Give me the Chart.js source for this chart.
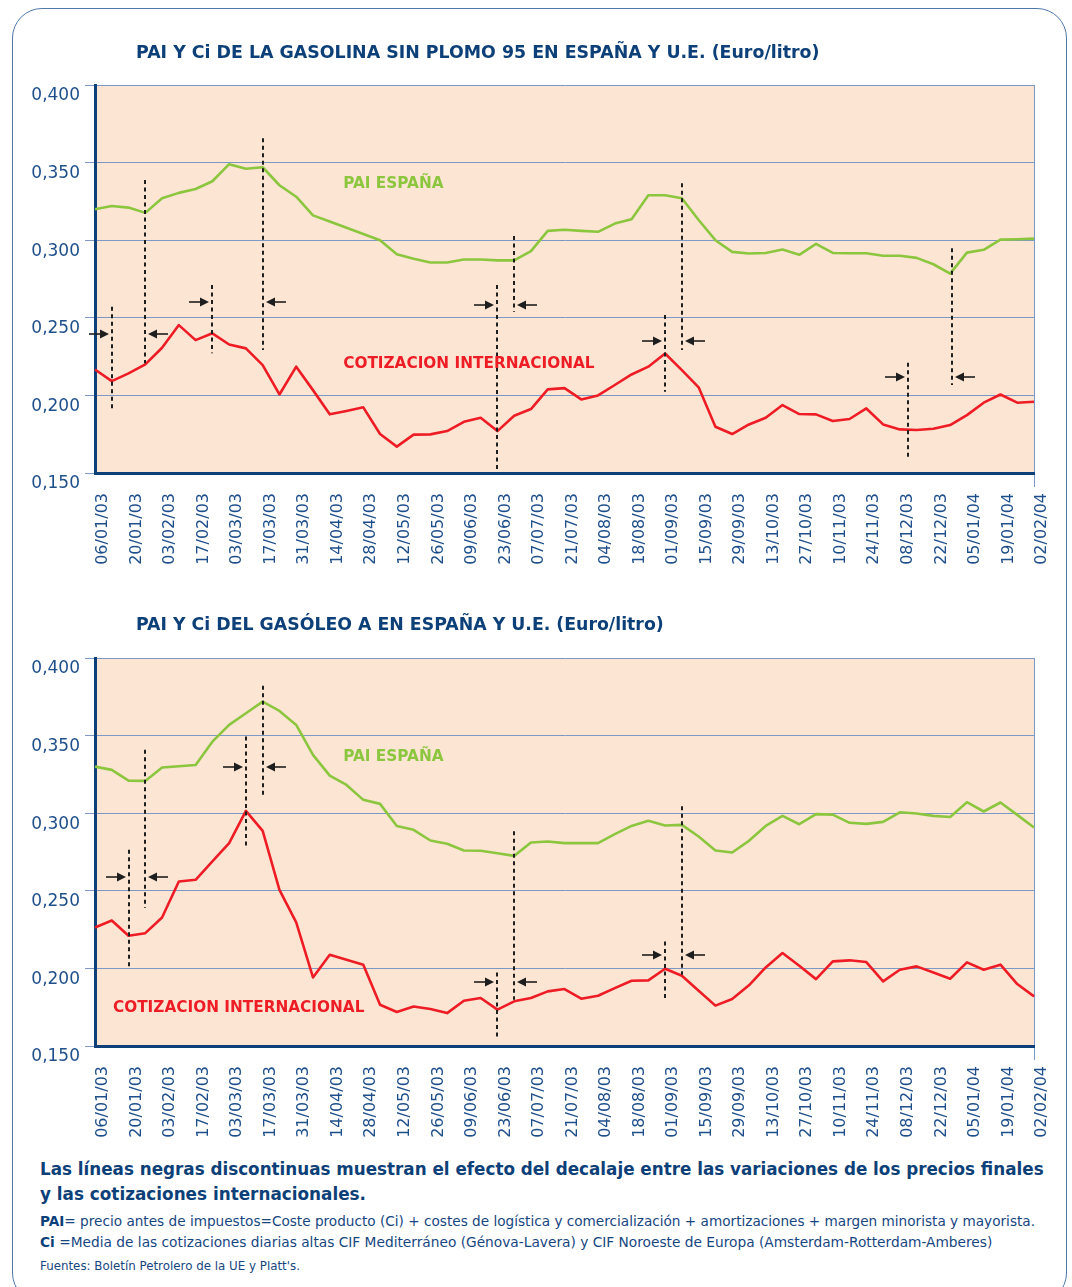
<!DOCTYPE html>
<html><head><meta charset="utf-8">
<script src="https://cdn.jsdelivr.net/npm/chart.js@4.4.1/dist/chart.umd.min.js"></script>
<style>
html,body{margin:0;padding:0;background:#fff;width:1072px;height:1287px;overflow:hidden;font-family:"DejaVu Sans",Verdana,sans-serif;}
#frame{position:absolute;left:12px;top:8px;width:1055px;height:1295px;border:1.5px solid #5078aa;border-radius:30px;box-sizing:border-box;}
.box{position:absolute;left:0;width:1072px;}
.t{position:absolute;white-space:nowrap;line-height:1;transform:translateY(-50%);}
.ttl{font-weight:bold;color:#0d3f78;font-size:17px;}
.fb{font-weight:bold;color:#0d3f78;font-size:15.5px;}
.fs{color:#17467f;font-size:12.5px;}
.fs b{color:#0d3f78;}
.ff{color:#17467f;font-size:11px;}
</style></head>
<body>
<div id="frame"></div>
<div class="box" style="top:0;height:573px;"><canvas id="c1"></canvas></div>
<div class="box" style="top:573px;height:580px;"><canvas id="c2"></canvas></div>
<div class="t ttl" data-w="684" style="left:136px;top:53px;">PAI Y Ci DE LA GASOLINA SIN PLOMO 95 EN ESPAÑA Y U.E. (Euro/litro)</div>
<div class="t ttl" data-w="528" style="left:136px;top:625px;">PAI Y Ci DEL GASÓLEO A EN ESPAÑA Y U.E. (Euro/litro)</div>
<div class="t fb" data-w="1004" style="left:40px;top:1169px;">Las líneas negras discontinuas muestran el efecto del decalaje entre las variaciones de los precios finales</div>
<div class="t fb" data-w="326" style="left:40px;top:1194px;">y las cotizaciones internacionales.</div>
<div class="t fs" data-w="996" style="left:40px;top:1222px;"><b>PAI</b>= precio antes de impuestos=Coste producto (Ci) + costes de logística y comercialización + amortizaciones + margen minorista y mayorista.</div>
<div class="t fs" data-w="953" style="left:40px;top:1243px;"><b>Ci</b> =Media de las cotizaciones diarias altas CIF Mediterráneo (Génova-Lavera) y CIF Noroeste de Europa (Amsterdam-Rotterdam-Amberes)</div>
<div class="t ff" data-w="260" style="left:40px;top:1267px;">Fuentes: Boletín Petrolero de la UE y Platt's.</div>
<script>
// ---------- DATA ----------
const weeks = ["06/01/03","13/01/03","20/01/03","27/01/03","03/02/03","10/02/03","17/02/03","24/02/03",
"03/03/03","10/03/03","17/03/03","24/03/03","31/03/03","07/04/03","14/04/03","21/04/03","28/04/03",
"05/05/03","12/05/03","19/05/03","26/05/03","02/06/03","09/06/03","16/06/03","23/06/03","30/06/03",
"07/07/03","14/07/03","21/07/03","28/07/03","04/08/03","11/08/03","18/08/03","25/08/03","01/09/03",
"08/09/03","15/09/03","22/09/03","29/09/03","06/10/03","13/10/03","20/10/03","27/10/03","03/11/03",
"10/11/03","17/11/03","24/11/03","01/12/03","08/12/03","15/12/03","22/12/03","29/12/03","05/01/04",
"12/01/04","19/01/04","26/01/04","02/02/04"];

const gasolinaPAI = [0.320,0.322,0.321,0.3176,0.327,0.3305,0.333,0.338,0.349,0.346,0.347,0.3354,0.328,
0.316,0.312,0.308,0.304,0.300,0.291,0.288,0.2856,0.2856,0.2876,0.2876,0.287,0.287,0.293,0.306,0.3067,
0.306,0.3054,0.3107,0.3135,0.329,0.329,0.327,0.313,0.300,0.2925,0.2914,0.2918,0.294,0.2906,0.2976,
0.2918,0.2916,0.2916,0.290,0.290,0.2886,0.2845,0.2785,0.292,0.2938,0.3004,0.3006,0.301];

const gasolinaCI = [0.2167,0.2092,0.2142,0.220,0.2307,0.2453,0.2356,0.240,0.2328,0.2303,0.2195,0.2006,
0.2185,0.2034,0.1878,0.190,0.1923,0.1751,0.167,0.1747,0.1749,0.177,0.183,0.1856,0.177,0.1869,0.1912,
0.2039,0.2047,0.1974,0.200,0.2067,0.2135,0.2185,0.227,0.2163,0.2052,0.1798,0.1751,0.1813,0.1856,
0.1938,0.188,0.1878,0.1835,0.1848,0.1916,0.1813,0.1781,0.1777,0.1785,0.1809,0.1873,0.1953,0.2006,
0.1953,0.1959];

const gasoleoPAI = [0.330,0.3279,0.321,0.3208,0.3294,0.3303,0.3311,0.3461,0.3569,0.3644,0.3719,0.3659,
0.3569,0.3376,0.3242,0.3182,0.3086,0.306,0.2918,0.2893,0.2824,0.2803,0.276,0.2758,0.2742,0.2725,
0.2811,0.2818,0.2807,0.2807,0.2807,0.2865,0.2918,0.2951,0.2921,0.2925,0.285,0.276,0.2747,0.2822,
0.2918,0.2983,0.2929,0.2994,0.2991,0.2938,0.2931,0.2944,0.3006,0.2998,0.2983,0.2976,0.3071,0.3011,
0.3069,0.2989,0.2908];

const gasoleoCI = [0.2264,0.2309,0.221,0.2227,0.2328,0.256,0.2571,0.2689,0.2807,0.3015,0.2886,0.2506,
0.2296,0.1942,0.2088,0.2056,0.2024,0.1766,0.1719,0.1755,0.1738,0.1712,0.1792,0.1809,0.1734,0.1788,
0.1809,0.1852,0.1867,0.1805,0.1824,0.1873,0.192,0.1923,0.1998,0.1953,0.1856,0.176,0.1803,0.1891,
0.2006,0.2099,0.2017,0.1931,0.2045,0.2052,0.2041,0.1916,0.1991,0.2013,0.1974,0.1933,0.2039,0.1991,
0.2024,0.1899,0.182];

const yTickValues = [0.150,0.200,0.250,0.300,0.350,0.400];
const yTickLabels = ["0,150","0,200","0,250","0,300","0,350","0,400"];

// decalaje markers (x = week index, y = value)
const gasDashX      = [1,3,7,10,24,25,34,35,48.5,51.1];
const gasDashTop    = [0.2572,0.3388,0.2711,0.3657,0.2711,0.3027,0.2518,0.3367,0.2211,0.2948];
const gasDashBottom = [0.1895,0.2207,0.2271,0.2293,0.1519,0.2539,0.2024,0.2293,0.1599,0.2067];
const gasArrowY     = [0.2394,0.2394,0.2604,0.2604,0.2582,0.2582,0.2353,0.2353,0.2121,0.2121];
const gasArrowSide  = ["L","R","L","R","L","R","L","R","L","R"];

const dslDashX      = [2,3,9,10,24,25,34,35];
const dslDashTop    = [0.2765,0.3409,0.3495,0.3822,0.1974,0.2883,0.2174,0.3044];
const dslDashBottom = [0.2003,0.2389,0.2786,0.3113,0.1541,0.1798,0.1809,0.1959];
const dslArrowY     = [0.2589,0.2589,0.3298,0.3298,0.191,0.191,0.2084,0.2084];
const dslArrowSide  = ["L","R","L","R","L","R","L","R"];

const seriesNames = ["PAI ESPAÑA","COTIZACION INTERNACIONAL"];
const gasLabelPos = {pai:[14.8,0.3362], ci:[14.8,0.2202]};
const dslLabelPos = {pai:[14.8,0.3364], ci:[1.07,0.1747]};

// ---------- STYLE ----------
const NAVY = "#0d3f78", TICK = "#1f4f8b", GRID = "#7d98c4";
const GREEN = "#8cc63f", RED = "#ee1c25", PEACH = "#fde5d3";
const FONT = "'DejaVu Sans', Verdana, sans-serif";

const bgPlugin = {
  id: "plotbg",
  beforeDraw(chart){
    const {ctx, chartArea:a} = chart;
    ctx.save();
    ctx.fillStyle = PEACH;
    ctx.fillRect(a.left, a.top, a.right-a.left, a.bottom-a.top);
    ctx.strokeStyle = GRID; ctx.lineWidth = 1;
    ctx.beginPath(); ctx.moveTo(a.right+0.5, a.top); ctx.lineTo(a.right+0.5, a.bottom+14); ctx.stroke();
    ctx.restore();
  }
};

const decoPlugin = {
  id: "decalaje",
  afterDatasetsDraw(chart, args, o){
    const {ctx, scales:{x, y}} = chart;
    ctx.save();
    ctx.strokeStyle = "#1e1e1e"; ctx.lineWidth = 2; ctx.setLineDash([4,3.5]);
    o.dashX.forEach((xv,i)=>{
      const px = Math.round(x.getPixelForValue(xv));
      ctx.beginPath(); ctx.moveTo(px, y.getPixelForValue(o.dashTop[i]));
      ctx.lineTo(px, y.getPixelForValue(o.dashBottom[i])); ctx.stroke();
    });
    ctx.setLineDash([]);
    ctx.fillStyle = "#1e1e1e"; ctx.lineWidth = 1.6;
    o.dashX.forEach((xv,i)=>{
      const px = Math.round(x.getPixelForValue(xv));
      const py = Math.round(y.getPixelForValue(o.arrowY[i]));
      const dir = o.arrowSide[i] === "L" ? 1 : -1;
      const tip = px - dir*3, tail = tip - dir*20;
      ctx.beginPath(); ctx.moveTo(tail, py); ctx.lineTo(tip - dir*6, py); ctx.stroke();
      ctx.beginPath(); ctx.moveTo(tip, py); ctx.lineTo(tip - dir*9, py-4.5); ctx.lineTo(tip - dir*9, py+4.5); ctx.closePath(); ctx.fill();
    });
    ctx.font = "bold 15.3px " + FONT;
    ctx.textBaseline = "middle"; ctx.textAlign = "left";
    ctx.fillStyle = GREEN;
    ctx.fillText(seriesNames[0], x.getPixelForValue(o.pai[0]), y.getPixelForValue(o.pai[1]));
    ctx.fillStyle = RED;
    ctx.fillText(seriesNames[1], x.getPixelForValue(o.ci[0]), y.getPixelForValue(o.ci[1]));
    ctx.restore();
  }
};

function makeChart(id, pai, ci, deco, xAxisHeight){
  return new Chart(document.getElementById(id), {
    type: "line",
    data: {
      labels: weeks,
      datasets: [
        {label: seriesNames[0], data: pai, borderColor: GREEN, borderWidth: 2.6, pointRadius: 0, tension: 0, borderJoinStyle: "round"},
        {label: seriesNames[1], data: ci, borderColor: RED, borderWidth: 2.6, pointRadius: 0, tension: 0, borderJoinStyle: "round"}
      ]
    },
    options: {
      responsive: true, maintainAspectRatio: false, animation: false,
      layout: {padding: {top: 85, right: 38, left: 0, bottom: 0}},
      plugins: {legend: {display: false}, tooltip: {enabled: false}, decalaje: deco},
      scales: {
        x: {
          type: "category",
          grid: {display: false},
          border: {display: true, color: NAVY, width: 3},
          ticks: {
            autoSkip: false, maxRotation: 90, minRotation: 90, padding: 12, labelOffset: 8,
            color: TICK, font: {family: FONT, size: 16},
            callback(v, i){ return i % 2 === 0 ? weeks[i] : null; }
          },
          afterFit(s){ s.height = xAxisHeight; }
        },
        y: {
          min: 0.15, max: 0.4,
          afterBuildTicks(s){ s.ticks = yTickValues.map(v => ({value: v})); },
          grid: {color: GRID, lineWidth: 1, tickLength: 10, tickColor: GRID, drawTicks: true},
          border: {display: true, color: NAVY, width: 3},
          ticks: {
            color: TICK, font: {family: FONT, size: 17}, padding: 5, labelOffset: 11,
            callback(v){ const k = yTickValues.findIndex(t => Math.abs(t - v) < 1e-6); return k >= 0 ? yTickLabels[k] : ""; }
          },
          afterFit(s){ s.width = 95; }
        }
      }
    },
    plugins: [bgPlugin, decoPlugin]
  });
}

makeChart("c1", gasolinaPAI, gasolinaCI, {dashX: gasDashX, dashTop: gasDashTop, dashBottom: gasDashBottom, arrowY: gasArrowY, arrowSide: gasArrowSide, pai: gasLabelPos.pai, ci: gasLabelPos.ci}, 100);
makeChart("c2", gasoleoPAI, gasoleoCI, {dashX: dslDashX, dashTop: dslDashTop, dashBottom: dslDashBottom, arrowY: dslArrowY, arrowSide: dslArrowSide, pai: dslLabelPos.pai, ci: dslLabelPos.ci}, 107);

document.querySelectorAll(".t[data-w]").forEach(el => {
  const target = +el.dataset.w;
  const w = el.getBoundingClientRect().width;
  const fs = parseFloat(getComputedStyle(el).fontSize);
  if (w > 0) el.style.fontSize = (fs * target / w).toFixed(2) + "px";
});
</script>
</body></html>
